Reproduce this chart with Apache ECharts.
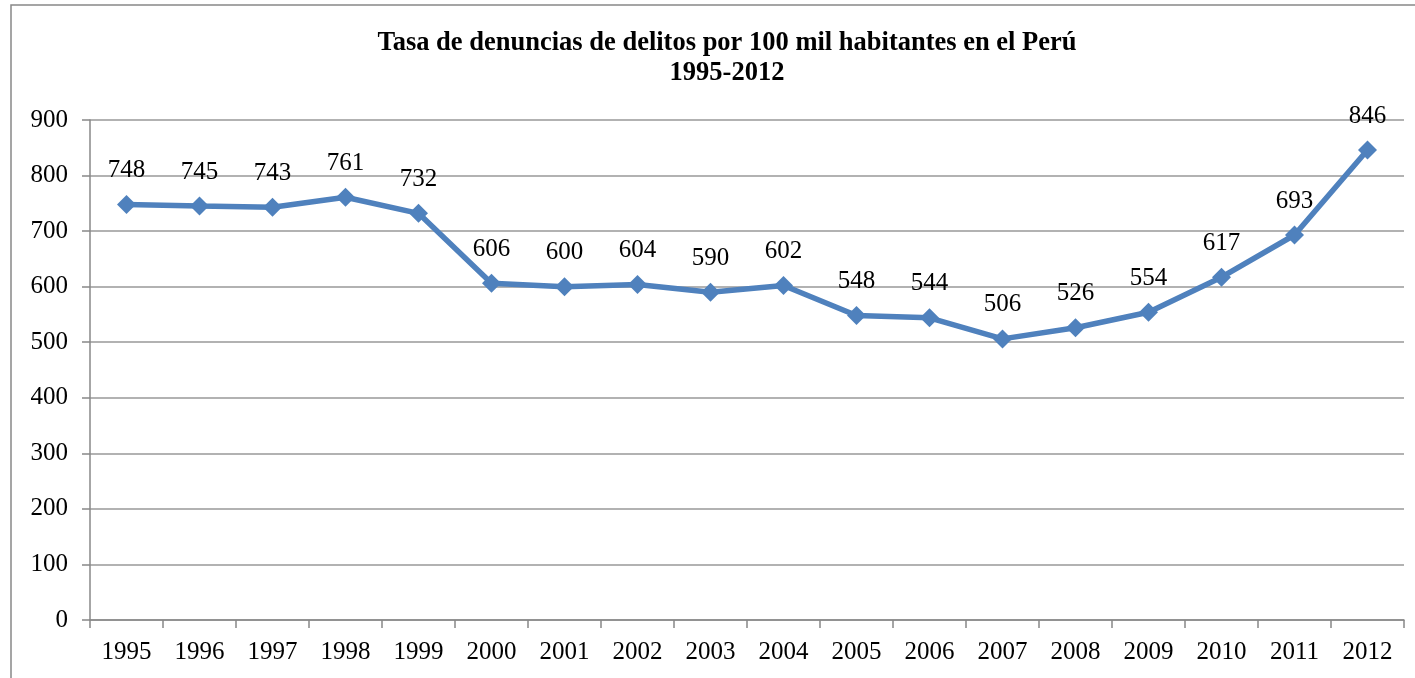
<!DOCTYPE html>
<html>
<head>
<meta charset="utf-8">
<script src="https://cdn.jsdelivr.net/npm/echarts@6/dist/echarts.min.js"></script>
<style>
  html, body { margin: 0; padding: 0; background: #fff; }
  #chart { width: 1415px; height: 678px; }
</style>
</head>
<body>
<div id="chart"></div>
<script>
// datos
const years = ['1995', '1996', '1997', '1998', '1999', '2000', '2001', '2002', '2003',
  '2004', '2005', '2006', '2007', '2008', '2009', '2010', '2011', '2012'];
const tasa = [748, 745, 743, 761, 732, 606, 600, 604, 590, 602, 548, 544, 506, 526, 554, 617, 693, 846];

const serif = '"Liberation Serif", "Times New Roman", serif';

const chart = echarts.init(document.getElementById('chart'));

const option = {
  animation: false,
  backgroundColor: '#fff',
  title: {
    text: 'Tasa de denuncias de delitos por 100 mil habitantes en el Perú\n1995-2012',
    left: 722,
    top: 23,
    textAlign: 'center',
    textStyle: { fontFamily: serif, fontSize: 26.5, fontWeight: 'bold', color: '#000', lineHeight: 30 }
  },
  // marco exterior
  graphic: [{
    type: 'rect',
    shape: { x: 11, y: 5, width: 1420, height: 690 },
    style: { fill: 'none', stroke: '#888', lineWidth: 1.5 },
    silent: true
  }],
  grid: { left: 90, right: 11, top: 120, bottom: 58 },
  xAxis: {
    type: 'category',
    data: years,
    boundaryGap: true,
    axisLine: { lineStyle: { color: '#888', width: 1.5 } },
    axisTick: { show: true, length: 8, lineStyle: { color: '#888', width: 1.5 } },
    axisLabel: { fontFamily: serif, fontSize: 25, color: '#000', margin: 20 },
    splitLine: { show: false }
  },
  yAxis: {
    type: 'value',
    min: 0,
    max: 900,
    interval: 100,
    axisLine: { show: true, lineStyle: { color: '#888', width: 1.5 } },
    axisTick: { show: true, length: 8, lineStyle: { color: '#888', width: 1.5 } },
    axisLabel: { fontFamily: serif, fontSize: 25, color: '#000', margin: 22 },
    splitLine: { lineStyle: { color: '#999', width: 1.5 } }
  },
  series: [{
    name: 'Tasa',
    type: 'line',
    data: tasa,
    symbol: 'diamond',
    symbolSize: 19,
    lineStyle: { color: '#4f81bd', width: 5.5 },
    itemStyle: { color: '#4f81bd' },
    label: {
      show: true,
      position: 'top',
      distance: 12,
      fontFamily: serif,
      fontSize: 25,
      color: '#000'
    }
  }]
};

chart.setOption(option);
</script>
</body>
</html>
